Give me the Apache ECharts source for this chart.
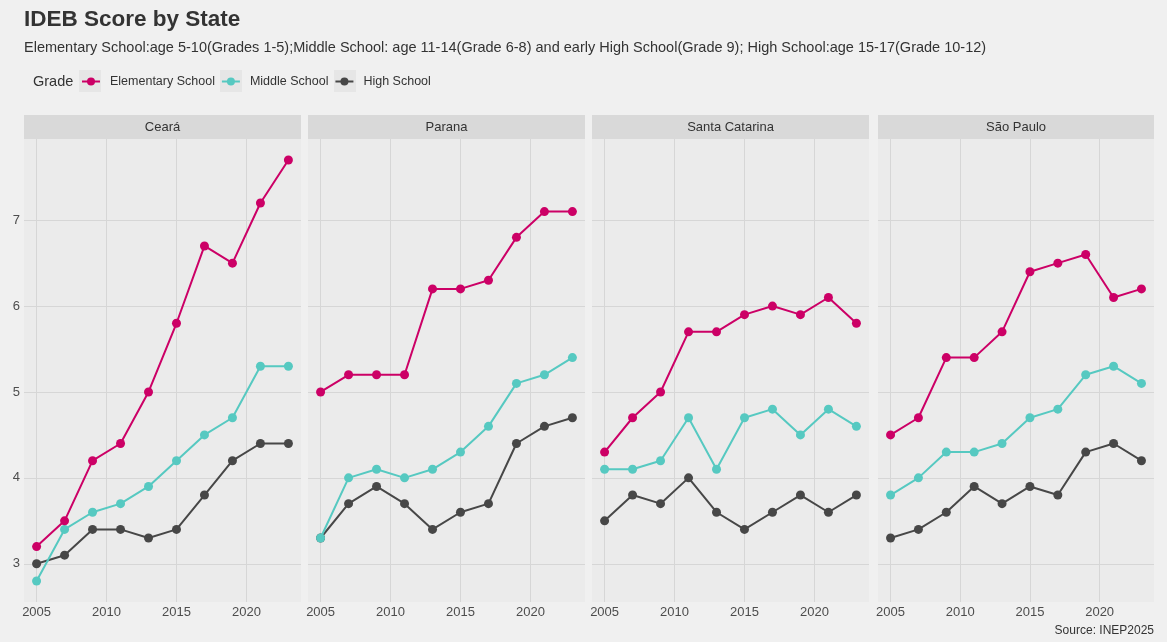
<!DOCTYPE html>
<html><head><meta charset="utf-8">
<script src="https://cdn.jsdelivr.net/npm/echarts@6/dist/echarts.min.js"></script>
<style>html,body{margin:0;padding:0;background:#f0f0f0}#c{width:1167px;height:642px}</style>
</head><body><div id="c"></div>
<script>
const years = [2005,2007,2009,2011,2013,2015,2017,2019,2021,2023];
const states = ['Ceará','Parana','Santa Catarina','São Paulo'];
const grades = ['Elementary School','Middle School','High School'];
const xTicks = [2005,2010,2015,2020];
const yTicks = [3,4,5,6,7];

const cearaElementary = [3.2,3.5,4.2,4.4,5.0,5.8,6.7,6.5,7.2,7.7];
const cearaMiddle     = [2.8,3.4,3.6,3.7,3.9,4.2,4.5,4.7,5.3,5.3];
const cearaHigh       = [3.0,3.1,3.4,3.4,3.3,3.4,3.8,4.2,4.4,4.4];

const paranaElementary = [5.0,5.2,5.2,5.2,6.2,6.2,6.3,6.8,7.1,7.1];
const paranaMiddle     = [3.3,4.0,4.1,4.0,4.1,4.3,4.6,5.1,5.2,5.4];
const paranaHigh       = [3.3,3.7,3.9,3.7,3.4,3.6,3.7,4.4,4.6,4.7];

const scElementary = [4.3,4.7,5.0,5.7,5.7,5.9,6.0,5.9,6.1,5.8];
const scMiddle     = [4.1,4.1,4.2,4.7,4.1,4.7,4.8,4.5,4.8,4.6];
const scHigh       = [3.5,3.8,3.7,4.0,3.6,3.4,3.6,3.8,3.6,3.8];

const spElementary = [4.5,4.7,5.4,5.4,5.7,6.4,6.5,6.6,6.1,6.2];
const spMiddle     = [3.8,4.0,4.3,4.3,4.4,4.7,4.8,5.2,5.3,5.1];
const spHigh       = [3.3,3.4,3.6,3.9,3.7,3.9,3.8,4.3,4.4,4.2];

const stateData = [
  [cearaElementary, cearaMiddle, cearaHigh],
  [paranaElementary, paranaMiddle, paranaHigh],
  [scElementary, scMiddle, scHigh],
  [spElementary, spMiddle, spHigh]
];

const colors = ['#cc0066','#56c9c1','#474747'];
const FONT = '"Liberation Sans", Arial, sans-serif';
const lefts = [24,308,592,878];
const widths = [277,277,277,276];
const TOP = 139, HEIGHT = 463;

const grids = [], xAxes = [], yAxes = [], series = [], graphics = [];
states.forEach((s, k) => {
  grids.push({left: lefts[k], top: TOP, width: widths[k], height: HEIGHT,
    show: true, backgroundColor: '#ebebeb', borderWidth: 0, containLabel: false});
  xAxes.push({type: 'value', gridIndex: k, min: 2004.1, max: 2023.9,
    axisLine: {show: false},
    axisTick: {show: false, customValues: xTicks},
    axisLabel: {customValues: xTicks, formatter: v => String(v), color: '#4d4d4d', fontSize: 13, fontFamily: FONT, margin: 4},
    splitLine: {show: true, lineStyle: {color: '#d6d6d6', width: 1}}});
  yAxes.push({type: 'value', gridIndex: k, min: 2.555, max: 7.945,
    axisLine: {show: false},
    axisTick: {show: false, customValues: yTicks},
    axisLabel: {show: k === 0, customValues: yTicks, color: '#4d4d4d', fontSize: 13, fontFamily: FONT, margin: 4},
    splitLine: {show: true, lineStyle: {color: '#d6d6d6', width: 1}}});
  grades.forEach((g, j) => {
    series.push({name: g, type: 'line', xAxisIndex: k, yAxisIndex: k,
      data: years.map((y, i) => [y, stateData[k][j][i]]),
      symbol: 'circle', symbolSize: 9, color: colors[j],
      lineStyle: {width: 2, color: colors[j]},
      itemStyle: {color: colors[j]},
      z: 3 - j + 2, animation: false});
  });
  graphics.push({type: 'rect', left: lefts[k], top: 115, shape: {width: widths[k], height: 24},
    style: {fill: '#d9d9d9'}, silent: true});
  graphics.push({type: 'text', x: lefts[k] + widths[k] / 2, y: 127,
    style: {text: s, fill: '#333333', font: '13px ' + FONT, textAlign: 'center', textVerticalAlign: 'middle'}});
});

// legend key backgrounds (ggplot legend.key)
[79, 220, 334].forEach(x => {
  graphics.push({type: 'rect', left: x, top: 70, shape: {width: 22, height: 22},
    style: {fill: '#e6e6e6'}, silent: true, z: -1});
});

graphics.push({type: 'text', x: 24, y: 20, style: {text: 'IDEB Score by State', fill: '#333333',
  font: 'bold 22.5px ' + FONT, textVerticalAlign: 'middle'}});
graphics.push({type: 'text', x: 24, y: 48, style: {text: 'Elementary School:age 5-10(Grades 1-5);Middle School: age 11-14(Grade 6-8) and early High School(Grade 9); High School:age 15-17(Grade 10-12)',
  fill: '#333333', font: '14.5px ' + FONT, textVerticalAlign: 'middle'}});
graphics.push({type: 'text', x: 33, y: 82, style: {text: 'Grade', fill: '#333333',
  font: '14.5px ' + FONT, textVerticalAlign: 'middle'}});
graphics.push({type: 'text', x: 1154, y: 631, style: {text: 'Source: INEP2025', fill: '#333333',
  font: '12px ' + FONT, textAlign: 'right', textVerticalAlign: 'middle'}});

const chart = echarts.init(document.getElementById('c'));
chart.setOption({
  backgroundColor: '#f0f0f0',
  animation: false,
  grid: grids, xAxis: xAxes, yAxis: yAxes, series: series,
  legend: {data: grades, left: 81, top: 74.5, padding: 0, itemWidth: 18, itemHeight: 10, itemGap: 6,
    textStyle: {color: '#333333', fontSize: 12.5, lineHeight: 14, fontFamily: FONT, padding: [0, 0, 0, 5]}},
  graphic: graphics
});
</script></body></html>
